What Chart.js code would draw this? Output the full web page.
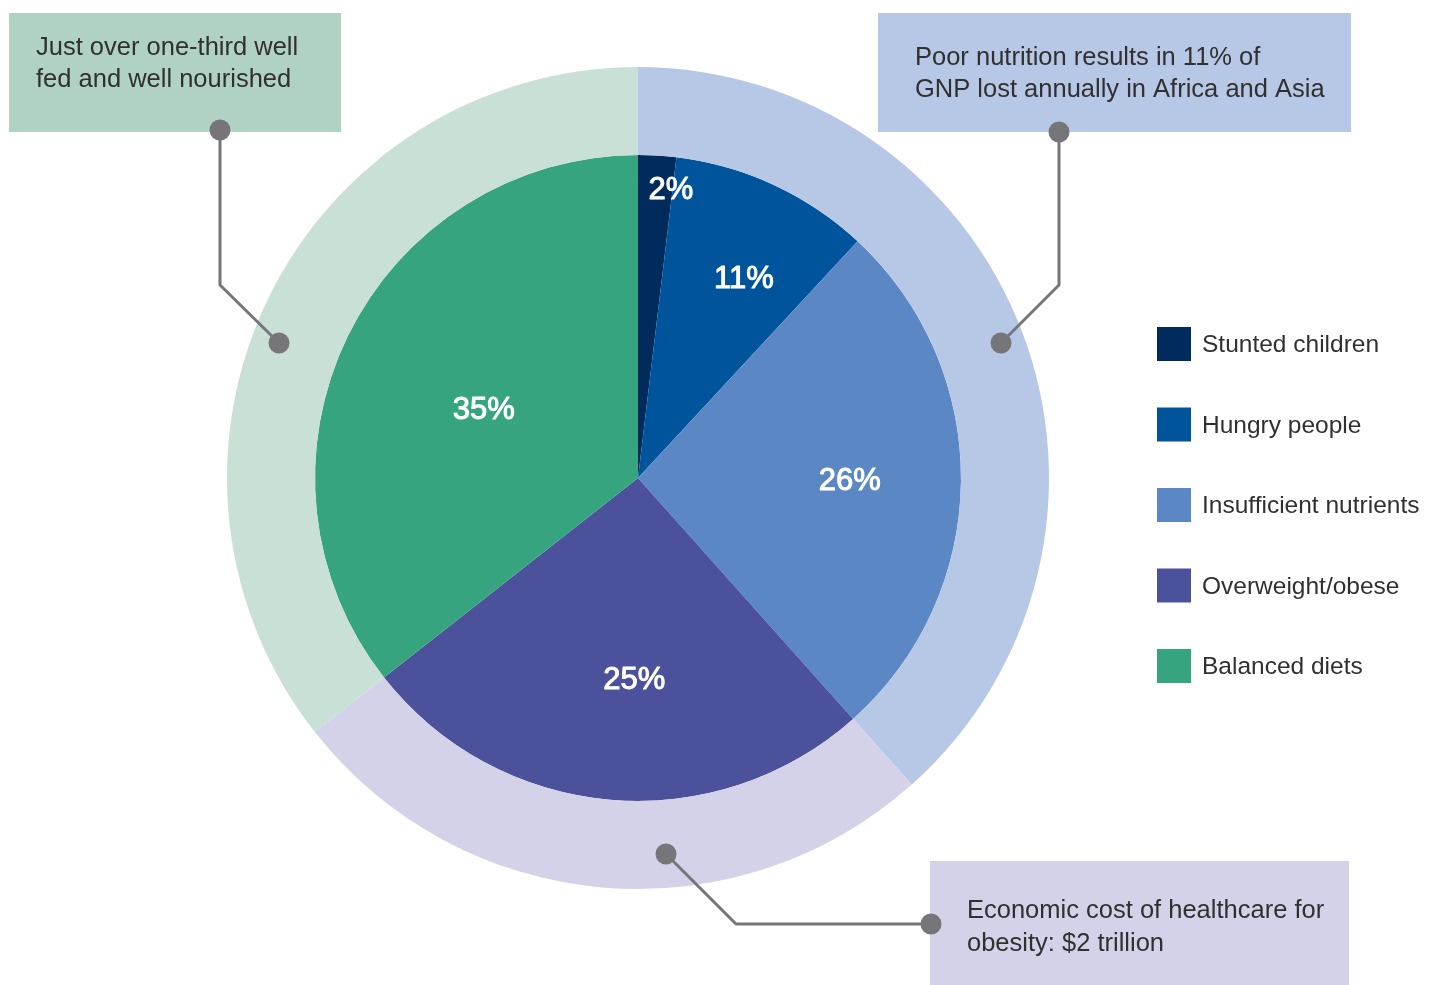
<!DOCTYPE html>
<html>
<head>
<meta charset="utf-8">
<script src="https://cdn.jsdelivr.net/npm/chart.js@4.4.0/dist/chart.umd.min.js"></script>
<style>
  html, body { margin: 0; padding: 0; background: #fff; }
  #wrap { position: relative; width: 1437px; height: 985px; }
</style>
</head>
<body>
<div id="wrap"><canvas id="nutritionChart" width="1437" height="985"></canvas></div>
<script>
// inner pie: shares of world population (angles)
const categories = ['Stunted children', 'Hungry people', 'Insufficient nutrients', 'Overweight/obese', 'Balanced diets'];
const shareValues = [1.9, 10.0, 26.5, 26.0, 35.6];
const shareLabels = ['2%', '11%', '26%', '25%', '35%'];

// outer ring: the three groups the callouts talk about
const groupNames = ['Undernourished', 'Overweight/obese', 'Balanced diets'];
const groupValues = [38.4, 26.0, 35.6];

const calloutTexts = [
    ['Just over one-third well', 'fed and well nourished'],
    ['Poor nutrition results in 11% of', 'GNP lost annually in Africa and Asia'],
    ['Economic cost of healthcare for', 'obesity: $2 trillion']
];

const sliceColors = ['#012b5d', '#00549b', '#5b88c5', '#4c519b', '#36a47f'];
const ringColors = ['#b7c7e6', '#d4d2e8', '#c9e0d6'];
const boxColors = ['#b0d2c3', '#b7c7e6', '#d4d2e8'];

// label placement inside slices: fraction of radius, angle nudge in degrees
const labelRadius = [0.90, 0.70, 0.656, 0.625, 0.523];
const labelNudge = [3.1, 3.1, 0, -4, -1.8];

const FONT = '"Liberation Sans", Arial, Helvetica, sans-serif';
const TEXT_COLOR = '#303030';
const LINE_COLOR = '#76767a';

// boxes and leader lines (x, y, w, h; dots and elbow points)
const boxes = [
    { x: 9, y: 13, w: 332, h: 119, tx: 36, ty: [55, 87] },
    { x: 878, y: 13, w: 473, h: 119, tx: 915, ty: [65, 97] },
    { x: 930, y: 861, w: 419, h: 124, tx: 967, ty: [918, 951] }
];
const leaders = [
    [[220, 130], [220, 285], [279, 343]],
    [[1059, 132], [1059, 285], [1001, 343]],
    [[931, 924], [736, 924], [666, 854]]
];

const overlayPlugin = {
    id: 'overlay',
    beforeDatasetsDraw(chart) {
        const ctx = chart.ctx;
        ctx.save();
        boxes.forEach((b, i) => {
            ctx.fillStyle = boxColors[i];
            ctx.fillRect(b.x, b.y, b.w, b.h);
        });
        ctx.restore();
    },
    afterDatasetsDraw(chart) {
        const ctx = chart.ctx;
        const meta = chart.getDatasetMeta(1);

        // percentage labels (regular face with a thin stroke ~ medium weight)
        ctx.save();
        ctx.fillStyle = '#ffffff';
        ctx.strokeStyle = '#ffffff';
        ctx.lineWidth = 1;
        ctx.lineJoin = 'round';
        ctx.font = '31px ' + FONT;
        ctx.textAlign = 'center';
        ctx.textBaseline = 'middle';
        meta.data.forEach((arc, i) => {
            const p = arc.getProps(['x', 'y', 'startAngle', 'endAngle', 'outerRadius'], true);
            const a = (p.startAngle + p.endAngle) / 2 + labelNudge[i] * Math.PI / 180;
            const r = p.outerRadius * labelRadius[i];
            const lx = p.x + r * Math.cos(a);
            const ly = p.y + r * Math.sin(a) + 1;
            ctx.fillText(shareLabels[i], lx, ly);
            ctx.strokeText(shareLabels[i], lx, ly);
        });

        // callout text
        ctx.fillStyle = TEXT_COLOR;
        ctx.font = '25.5px ' + FONT;
        ctx.textAlign = 'left';
        ctx.textBaseline = 'alphabetic';
        boxes.forEach((b, i) => {
            calloutTexts[i].forEach((line, j) => ctx.fillText(line, b.tx, b.ty[j]));
        });

        // leader lines with dots at both ends
        ctx.strokeStyle = LINE_COLOR;
        ctx.fillStyle = LINE_COLOR;
        ctx.lineWidth = 3;
        leaders.forEach(pts => {
            ctx.beginPath();
            ctx.moveTo(pts[0][0], pts[0][1]);
            for (let k = 1; k < pts.length; k++) ctx.lineTo(pts[k][0], pts[k][1]);
            ctx.stroke();
            [pts[0], pts[pts.length - 1]].forEach(pt => {
                ctx.beginPath();
                ctx.arc(pt[0], pt[1], 10.5, 0, Math.PI * 2);
                ctx.fill();
            });
        });

        // legend
        ctx.font = '24.5px ' + FONT;
        categories.forEach((name, i) => {
            const cy = 344 + i * 80.5;
            ctx.fillStyle = sliceColors[i];
            ctx.fillRect(1157, cy - 17, 34, 34);
            ctx.fillStyle = TEXT_COLOR;
            ctx.fillText(name, 1202, cy + 8);
        });
        ctx.restore();
    }
};

const ctx = document.getElementById('nutritionChart').getContext('2d');
new Chart(ctx, {
    type: 'doughnut',
    data: {
        labels: categories,
        datasets: [
            {
                label: 'Groups',
                data: groupValues,
                backgroundColor: ringColors,
                borderWidth: 0,
                hoverOffset: 0,
                weight: 88
            },
            {
                label: 'Share of population',
                data: shareValues,
                backgroundColor: sliceColors,
                borderWidth: 0,
                hoverOffset: 0,
                weight: 323
            }
        ]
    },
    options: {
        responsive: false,
        animation: false,
        cutout: 0,
        layout: { padding: { left: 227, right: 388, top: 67, bottom: 96 } },
        plugins: {
            legend: { display: false },
            tooltip: { enabled: false }
        }
    },
    plugins: [overlayPlugin]
});
</script>
</body>
</html>
